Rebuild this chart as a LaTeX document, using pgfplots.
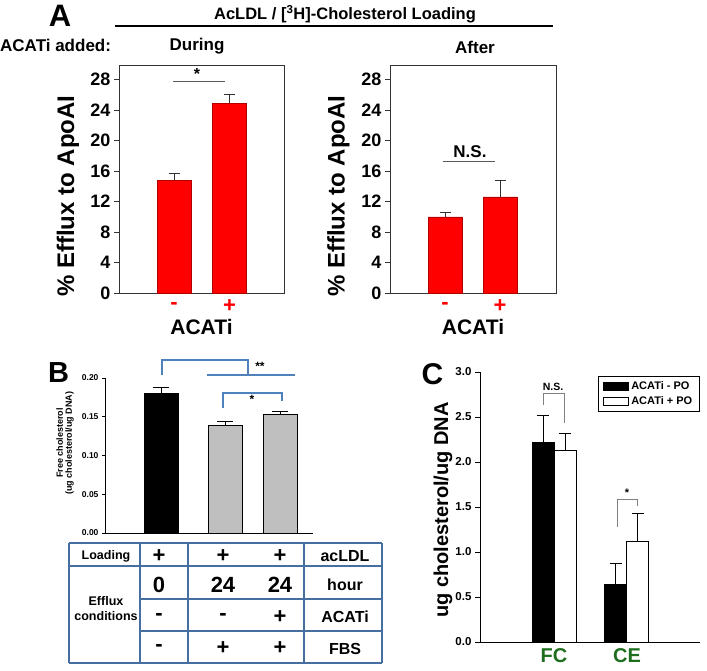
\documentclass[border=0pt]{standalone}
\usepackage{fontspec}
\setmainfont{Liberation Sans}
\usepackage{pgfplots}
\usepackage{pgfplotstable}
\pgfplotsset{compat=1.18}
\definecolor{tblue}{RGB}{79,129,189}
\definecolor{tline}{RGB}{70,110,160}
\definecolor{fcgreen}{RGB}{30,110,30}
\newcommand{\fs}[1]{\fontsize{#1}{#1}\selectfont\bfseries}

\pgfplotstableread{
x y e
55 14.8 0.9
110.5 24.9 1.2
}\Aduring
\pgfplotstableread{
x y e
55 10.0 0.6
110 12.6 2.2
}\Aafter
\pgfplotstableread{
x y e
56 0.181 0.007
}\Bblack
\pgfplotstableread{
x y e
120 0.139 0.0055
175 0.1535 0.0035
}\Bgrey
\pgfplotstableread{
x y e
63 2.22 0.30
135.5 0.64 0.23
}\Cminus
\pgfplotstableread{
x y e
85 2.13 0.19
157.5 1.12 0.31
}\Cplus

\pgfplotsset{
  Astyle/.style={scale only axis, anchor=south west, width=165pt, height=228pt,
    xmin=0, xmax=165, ymin=0, ymax=29.9, ytick={0,4,...,28}, ytick pos=left,
    tick align=outside, major tick length=5pt,
    x tick style={draw=none},
    xticklabel style={text=red, font=\fs{22}, anchor=center, yshift=-8pt},
    yticklabel style={font=\fs{18}},
    /pgf/number format/assume math mode=true,
    axis line style={line width=0.9pt, black!80},
    every tick/.style={line width=0.9pt, black!80},
    clip=false,
    xlabel={ACATi},
    xlabel style={font=\fs{21}, at={(axis description cs:0.5,-0.149)}, anchor=center},
    ylabel={\% Efflux to ApoAI},
    ylabel style={font=\fs{24}, at={(axis description cs:-0.31,0.425)}, anchor=center}},
  Abar/.style={ybar, bar width=34pt, bar shift=0pt, fill=red, draw=red!70!black, line width=0.5pt,
    error bars/.cd, y dir=plus, y explicit,
    error bar style={line width=0.9pt, black!80},
    error mark options={rotate=90, mark size=5.5pt, line width=0.9pt, black!80}},
}

\begin{document}
\begin{tikzpicture}
\useasboundingbox (0pt,0pt) rectangle (707pt,-670pt);

% ---------- Panel A header ----------
\node[font=\fs{31}, inner sep=0] at (60pt,-16pt) {A};
\node[font=\fs{16.5}, inner sep=0] at (345pt,-14pt) {AcLDL / [\textsuperscript{3}H]-Cholesterol Loading};
\draw[line width=1.5pt] (115pt,-26pt) -- (553pt,-26pt);
\node[font=\fs{17}, inner sep=0, anchor=west] at (0pt,-45pt) {ACATi added:};
\node[font=\fs{17}, inner sep=0] at (197pt,-46pt) {During};
\node[font=\fs{17}, inner sep=0] at (475pt,-47pt) {After};

% ---------- Panel A left ----------
\begin{axis}[Astyle, at={(119pt,-293pt)}, xtick={55,110.5}, xticklabels={-,+}]
\addplot[Abar] table[x=x, y=y, y error=e] {\Aduring};
\draw[line width=1pt, black!65] (axis cs:54,27.7) -- (axis cs:106,27.7);
\node[font=\fs{16}, inner sep=0] at (axis cs:78,28.7) {*};
\end{axis}

% ---------- Panel A right ----------
\begin{axis}[Astyle, at={(390pt,-293pt)}, width=166pt, xmax=166, xtick={55,110}, xticklabels={-,+},
  ylabel style={at={(axis description cs:-0.31,0.425)}}]
\addplot[Abar] table[x=x, y=y, y error=e] {\Aafter};
\draw[line width=1pt, black!65] (axis cs:53,17.2) -- (axis cs:105,17.2);
\node[font=\fs{17}, inner sep=0] at (axis cs:80,18.6) {N.S.};
\end{axis}

% ---------- Panel B ----------
\node[font=\fs{29}, inner sep=0] at (58.5pt,-372.5pt) {B};
\begin{axis}[at={(105pt,-533pt)}, anchor=south west, scale only axis, width=208pt, height=155pt,
  xmin=0, xmax=208, ymin=0, ymax=0.2,
  axis x line=bottom, axis y line=left, axis line style={-, line width=0.8pt},
  ytick={0,0.05,0.1,0.15,0.2}, xtick=\empty,
  tick align=outside, major tick length=3pt, every tick/.style={line width=0.7pt, black},
  /pgf/number format/assume math mode=true,
  yticklabel style={font=\fs{8.5}, /pgf/number format/.cd, fixed, fixed zerofill, precision=2},
  ylabel={Free cholesterol\\(ug cholesterol/ug DNA)},
  ylabel style={font=\fs{9}, align=center, at={(axis description cs:-0.192,0.58)}, anchor=center},
  clip=false]
\addplot[ybar, bar width=34pt, bar shift=0pt, fill=black, draw=black,
  error bars/.cd, y dir=plus, y explicit, error bar style={line width=0.9pt, black},
  error mark options={rotate=90, mark size=8pt, line width=0.9pt, black}]
  table[x=x, y=y, y error=e] {\Bblack};
\addplot[ybar, bar width=34pt, bar shift=0pt, fill=black!25, draw=black, line width=0.7pt,
  error bars/.cd, y dir=plus, y explicit, error bar style={line width=0.9pt, black},
  error mark options={rotate=90, mark size=8pt, line width=0.9pt, black}]
  table[x=x, y=y, y error=e] {\Bgrey};
% brackets
\draw[tblue, line width=1.3pt] (axis cs:57,0.2039) -- (axis cs:57,0.2232) -- (axis cs:143,0.2232) -- (axis cs:143,0.2039);
\draw[tblue, line width=1.3pt] (axis cs:102,0.2039) -- (axis cs:190,0.2039);
\node[font=\fs{12}, inner sep=0] at (axis cs:155,0.2155) {**};
\draw[tblue, line width=1.3pt] (axis cs:118,0.1613) -- (axis cs:118,0.1806) -- (axis cs:177,0.1806) -- (axis cs:177,0.1703);
\node[font=\fs{12}, inner sep=0] at (axis cs:147,0.1730) {*};
\end{axis}

% ---------- Panel B table ----------
\begin{scope}[tline, line width=1.5pt]
\draw (69pt,-543pt) -- (382pt,-543pt);
\draw (69pt,-566pt) -- (382pt,-566pt);
\draw (140pt,-599pt) -- (382pt,-599pt);
\draw (140pt,-631pt) -- (382pt,-631pt);
\draw (69pt,-663pt) -- (382pt,-663pt);
\foreach \xx in {69,140,188,304,382} {\draw (\xx pt,-543pt) -- (\xx pt,-663pt);}
\end{scope}
\begin{scope}[every node/.style={inner sep=0, text=black}]
\node[font=\fs{12.5}] at (106pt,-556pt) {Loading};
\node[font=\fs{12.5}, align=center] at (106pt,-608.5pt) {Efflux\\[2pt]conditions};
\node[font=\fs{22}] at (159pt,-556pt) {+};
\node[font=\fs{22}] at (223pt,-556pt) {+};
\node[font=\fs{22}] at (280pt,-556pt) {+};
\node[font=\fs{16}] at (345pt,-556pt) {acLDL};
\node[font=\fs{22}] at (159pt,-585pt) {0};
\node[font=\fs{22}] at (223pt,-585pt) {24};
\node[font=\fs{22}] at (280pt,-585pt) {24};
\node[font=\fs{16}] at (345pt,-585pt) {hour};
\node[font=\fs{22}] at (159pt,-617pt) {-};
\node[font=\fs{22}] at (223pt,-617pt) {-};
\node[font=\fs{22}] at (280pt,-617pt) {+};
\node[font=\fs{16}] at (345pt,-617pt) {ACATi};
\node[font=\fs{22}] at (159pt,-648pt) {-};
\node[font=\fs{22}] at (223pt,-648pt) {+};
\node[font=\fs{22}] at (280pt,-648pt) {+};
\node[font=\fs{16}] at (345pt,-649pt) {FBS};
\end{scope}

% ---------- Panel C ----------
\node[font=\fs{30}, inner sep=0] at (432.5pt,-374pt) {C};
\begin{axis}[at={(480pt,-642pt)}, anchor=south west, scale only axis, width=220pt, height=270pt,
  xmin=0, xmax=220, ymin=0, ymax=3,
  axis x line=bottom, axis y line=left, axis line style={-, line width=1pt},
  ytick={0,0.5,...,3}, xtick={74,147}, xticklabels={FC,CE},
  x tick style={draw=none},
  xticklabel style={text=fcgreen, font=\fs{20}, anchor=center, yshift=-9pt},
  tick align=outside, major tick length=5pt, every tick/.style={line width=1pt, black},
  /pgf/number format/assume math mode=true,
  yticklabel style={font=\fs{11.5}, /pgf/number format/.cd, fixed, fixed zerofill, precision=1},
  ylabel={ug cholesterol/ug DNA},
  ylabel style={font=\fs{20}, at={(axis description cs:-0.168,0.489)}, anchor=center},
  legend style={at={(axis description cs:0.536,0.985)}, anchor=north west, font=\fs{11},
    draw=black, line width=0.9pt, inner xsep=5pt, inner ysep=3pt, row sep=1.5pt,
    cells={anchor=west}},
  legend image code/.code={\draw[#1, line width=0.9pt] (0pt,-4pt) rectangle (25pt,4pt);},
  clip=false]
\addplot[ybar, bar width=22pt, bar shift=0pt, fill=black, draw=black, line width=0.9pt,
  error bars/.cd, y dir=plus, y explicit, error bar style={line width=1pt, black},
  error mark options={rotate=90, mark size=6pt, line width=1pt, black}]
  table[x=x, y=y, y error=e] {\Cminus};
\addlegendentry{ACATi - PO}
\addplot[ybar, bar width=22pt, bar shift=0pt, fill=white, draw=black, line width=0.9pt,
  error bars/.cd, y dir=plus, y explicit, error bar style={line width=1pt, black},
  error mark options={rotate=90, mark size=6pt, line width=1pt, black}]
  table[x=x, y=y, y error=e] {\Cplus};
\addlegendentry{ACATi + PO}
\draw[black!50, line width=1pt] (axis cs:63,2.633) -- (axis cs:63,2.756) -- (axis cs:84,2.756) -- (axis cs:84,2.433);
\node[font=\fs{10.5}, inner sep=0] at (axis cs:73,2.83) {N.S.};
\draw[black!50, line width=1pt] (axis cs:137,1.278) -- (axis cs:137,1.578) -- (axis cs:157,1.578) -- (axis cs:157,1.511);
\node[font=\fs{11}, inner sep=0] at (axis cs:147,1.66) {*};
\end{axis}
\end{tikzpicture}
\end{document}
